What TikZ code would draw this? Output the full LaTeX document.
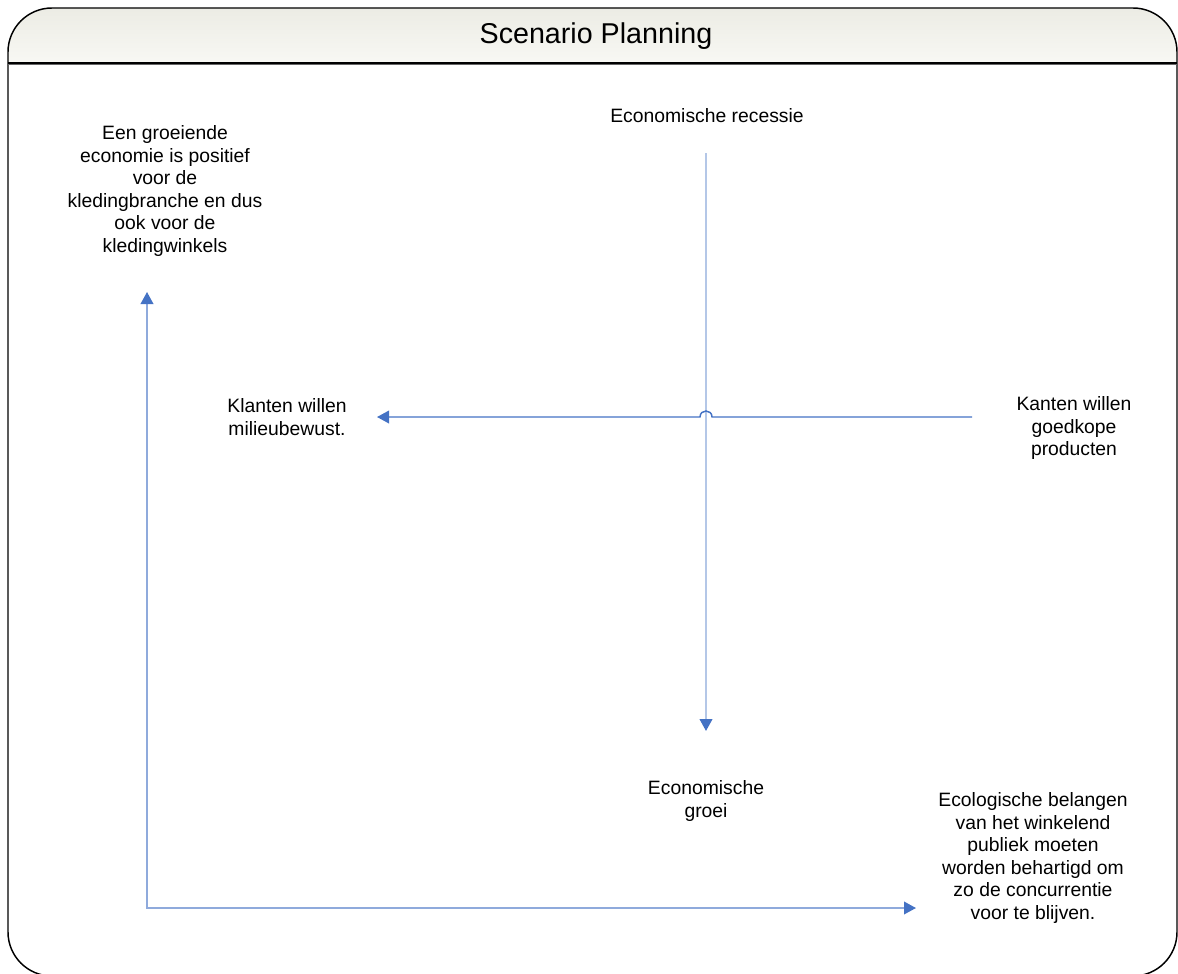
\documentclass[tikz,border=0pt]{standalone}
\usepackage{fontspec}
\setmainfont{Liberation Sans}
\usetikzlibrary{arrows.meta,positioning}

\definecolor{axisblue}{HTML}{4472C4}
\definecolor{paleblue}{HTML}{B4C7E7}
\definecolor{lightblue}{HTML}{8FAADC}
\definecolor{headtop}{HTML}{EAEAE2}
\definecolor{headbot}{HTML}{F8F8F4}

\begin{document}
\begin{tikzpicture}[
    x=0.75pt, y=-0.75pt,
    lbl/.style={align=center, inner sep=0pt, font=\fontsize{14.5}{16.9}\selectfont},
    head/.style={-{Triangle[length=9pt, width=9.5pt, color=axisblue]}},
    twohead/.style={{Triangle[length=9pt, width=9.5pt, color=axisblue]}-{Triangle[length=9pt, width=9.5pt, color=axisblue]}},
    frameline/.style={draw=black, line width=1.1pt, rounded corners=33pt}
]
\useasboundingbox (0,0) rectangle (1178,974);

%% ── Frame and header ─────────────────────────────────────────────
\begin{scope}
    \clip[rounded corners=33pt] (8,976) -- (8,8) -- (1177,8) -- (1177,976) -- cycle;
    \shade[top color=headtop, bottom color=headbot] (0,0) rectangle (1178,63);
\end{scope}
\draw[frameline] (8,976) -- (8,8) -- (1177,8) -- (1177,976) -- cycle;
\draw[black!60, line width=1pt] (8,64.5) -- (1177,64.5);
\draw[black, line width=0.8pt] (8,63) -- (1177,63);
\node[font=\fontsize{21.5}{24}\selectfont] (title) at (596,36) {Scenario Planning};

%% ── Labels ───────────────────────────────────────────────────────
\node[lbl] (groeiende) at (165,191) {Een groeiende\\economie is positief\\voor de\\kledingbranche en dus\\ook voor de\\kledingwinkels};
\node[lbl] (recessie)  at (707,116) {Economische recessie};
\node[lbl] (klanten)   at (287,417) {Klanten willen\\milieubewust.};
\node[lbl] (kanten)    at (1074,428) {Kanten willen\\goedkope\\producten};
\node[lbl] (groei)     at (706,801) {Economische\\groei};
\node[lbl] (ecologisch) at (1033,858) {Ecologische belangen\\van het winkelend\\publiek moeten\\worden behartigd om\\zo de concurrentie\\voor te blijven.};

%% ── Axis ends ────────────────────────────────────────────────────
\coordinate (vTop)    at (706,153);
\coordinate (vEnd)    at (706,731);
\coordinate (hStart)  at (972,417);
\coordinate (hEnd)    at (377,417);
\coordinate (lUp)     at (147,292);
\coordinate (lCorner) at (147,908);
\coordinate (lRight)  at (916,908);

%% ── Arrows ───────────────────────────────────────────────────────
\draw[head, paleblue, line width=1.5pt] (vTop) -- (vEnd);
\draw[head, axisblue, line width=1.1pt] (hStart) -- (712,417)
    .. controls (712,409) and (700,409) .. (700,417) -- (hEnd);
\draw[twohead, lightblue, line width=1.1pt] (lUp) -- (lCorner) -- (lRight);
\end{tikzpicture}
\end{document}
